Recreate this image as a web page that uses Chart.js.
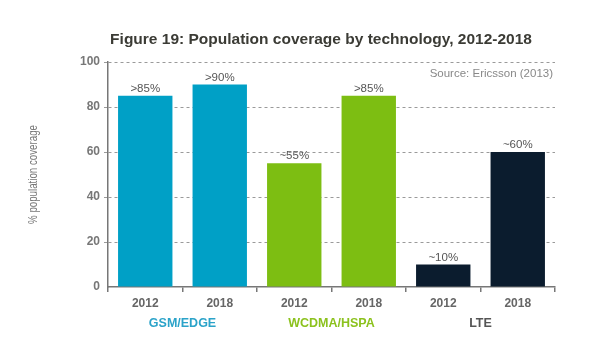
<!DOCTYPE html>
<html>
<head>
<meta charset="utf-8">
<script src="https://cdn.jsdelivr.net/npm/chart.js@4"></script>
<style>
  html, body { margin: 0; padding: 0; background: #fff; }
  #wrap { width: 600px; height: 363px; }
</style>
</head>
<body>
<div id="wrap"><canvas id="coverageChart" width="600" height="363"></canvas></div>
<script>
// ================== DATA ==================
const years = ["2012", "2018", "2012", "2018", "2012", "2018"];
const coverage = [85, 90, 55, 85, 10, 60];
const valueLabels = [">85%", ">90%", "~55%", ">85%", "~10%", "~60%"];
const technologies = ["GSM/EDGE", "WCDMA/HSPA", "LTE"];
const yTicks = [0, 20, 40, 60, 80, 100];

// ================== COLORES ==================
const barColors = ["#00a0c6", "#00a0c6", "#7dbe12", "#7dbe12", "#0b1c2e", "#0b1c2e"];
const techColors = ["#2ba3c9", "#8cc21e", "#555555"];
const FONT = "'Liberation Sans', Arial, sans-serif";

// Titulo, fuente, etiquetas de valores y grupos
const extras = {
  id: "extras",
  afterDraw(chart) {
    const { ctx, chartArea } = chart;
    const x = chart.scales.x;
    ctx.save();

    // titulo
    ctx.fillStyle = "#3b3b35";
    ctx.font = "bold 15.5px " + FONT;
    ctx.textAlign = "center";
    ctx.textBaseline = "middle";
    ctx.fillText("Figure 19: Population coverage by technology, 2012-2018", 321, 40);

    // fuente
    ctx.fillStyle = "#888";
    ctx.font = "11.5px " + FONT;
    ctx.textAlign = "right";
    ctx.fillText("Source: Ericsson (2013)", chartArea.right - 2, 74);

    // etiquetas sobre barras
    ctx.fillStyle = "#555";
    ctx.font = "11.5px " + FONT;
    ctx.textAlign = "center";
    chart.getDatasetMeta(0).data.forEach((bar, i) => {
      ctx.fillText(valueLabels[i], bar.x, bar.y - 7);
    });

    // grupos de tecnologia
    ctx.font = "bold 12.5px " + FONT;
    technologies.forEach((t, i) => {
      const cx = (x.getPixelForValue(i * 2) + x.getPixelForValue(i * 2 + 1)) / 2;
      ctx.fillStyle = techColors[i];
      ctx.fillText(t, cx, 324);
    });

    // titulo eje Y
    ctx.translate(33, (chartArea.top + chartArea.bottom) / 2);
    ctx.rotate(-Math.PI / 2);
    ctx.scale(0.72, 1);
    ctx.fillStyle = "#777";
    ctx.font = "13.5px " + FONT;
    ctx.fillText("% population coverage", 0, 0);
    ctx.restore();
  },
};

new Chart(document.getElementById("coverageChart"), {
  type: "bar",
  data: {
    labels: years,
    datasets: [
      {
        data: coverage,
        backgroundColor: barColors,
        categoryPercentage: 0.73,
        barPercentage: 1,
      },
    ],
  },
  options: {
    responsive: false,
    animation: false,
    layout: { padding: { top: 62, right: 45, left: 0, bottom: 0 } },
    plugins: {
      legend: { display: false },
      tooltip: { enabled: false },
    },
    scales: {
      x: {
        grid: {
          offset: true,
          drawOnChartArea: false,
          drawTicks: true,
          tickLength: 5,
          color: "#777",
          lineWidth: 1.5,
        },
        border: { display: true, color: "#777", width: 1.5 },
        ticks: {
          color: "#666",
          font: { family: FONT, size: 12, weight: "bold" },
          padding: 4,
        },
        afterFit(scale) {
          scale.height = 76;
        },
      },
      y: {
        min: 0,
        max: 100,
        afterBuildTicks(scale) {
          scale.ticks = yTicks.map((v) => ({ value: v }));
        },
        grid: {
          color: (c) => (c.tick && c.tick.value === 0 ? "rgba(0,0,0,0)" : "#9a9a9a"),
          lineWidth: 1,
          tickLength: 4,
        },
        border: { display: true, color: "#777", width: 1.5, dash: [3, 3] },
        ticks: {
          color: "#777",
          font: { family: FONT, size: 12, weight: "bold" },
          padding: 4,
        },
        afterFit(scale) {
          scale.width = 108;
        },
      },
    },
  },
  plugins: [extras],
});
</script>
</body>
</html>
